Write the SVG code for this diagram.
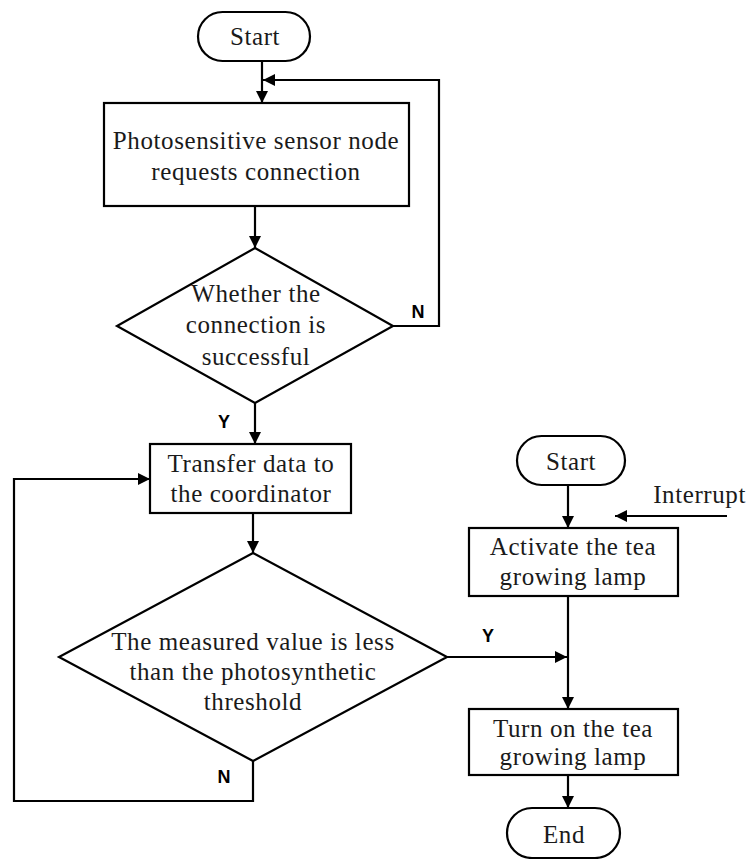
<svg xmlns="http://www.w3.org/2000/svg" width="748" height="859" viewBox="0 0 748 859">
<style>
.shape{fill:#fff;stroke:#000;stroke-width:2.2}
.t{font-family:"Liberation Serif","Times New Roman",serif;font-size:25px;letter-spacing:0.6px;fill:#1a1a1a;text-anchor:middle}
.lbl{font-family:"Liberation Sans",Arial,sans-serif;font-weight:bold;font-size:18px;fill:#000;text-anchor:middle}
.c{fill:none;stroke:#000;stroke-width:2.2}
</style>
<defs>
<marker id="ah" viewBox="0 0 10 10" refX="10" refY="5" markerWidth="13" markerHeight="12" markerUnits="userSpaceOnUse" orient="auto">
<path d="M0,0 L10,5 L0,10 Z" fill="#000"/>
</marker>
</defs>
<rect width="748" height="859" fill="#fff"/>
<g id="connectors">
<path class="c" d="M262,61 V103" marker-end="url(#ah)"/>
<path class="c" d="M393,326 H439 V80 H263" marker-end="url(#ah)"/>
<path class="c" d="M255,206 V248" marker-end="url(#ah)"/>
<path class="c" d="M255,403 V444" marker-end="url(#ah)"/>
<path class="c" d="M253,513 V553" marker-end="url(#ah)"/>
<path class="c" d="M253,761 V801 H14 V479 H150" marker-end="url(#ah)"/>
<path class="c" d="M447,657 H567" marker-end="url(#ah)"/>
<path class="c" d="M568,485 V528" marker-end="url(#ah)"/>
<path class="c" d="M727,516 H615" marker-end="url(#ah)"/>
<path class="c" d="M568,596 V709" marker-end="url(#ah)"/>
<path class="c" d="M568,775 V808" marker-end="url(#ah)"/>
<text class="lbl" x="418" y="318">N</text>
<text class="lbl" x="224" y="428">Y</text>
<text class="lbl" x="224" y="783">N</text>
<text class="lbl" x="488" y="642">Y</text>
<text class="t" x="746" y="503" style="text-anchor:end">Interrupt</text>
</g>
<g id="start1">
<rect class="shape" x="198" y="12" width="112" height="49" rx="24.5"/>
<text class="t" x="255" y="45">Start</text>
</g>
<g id="request">
<rect class="shape" x="104" y="103" width="305" height="103"/>
<text class="t" x="256" y="149">Photosensitive sensor node</text>
<text class="t" x="256" y="180">requests connection</text>
</g>
<g id="decision1">
<polygon class="shape" points="255,248 393,326 255,403 117,326"/>
<text class="t" x="256" y="302">Whether the</text>
<text class="t" x="256" y="333">connection is</text>
<text class="t" x="256" y="365">successful</text>
</g>
<g id="transfer">
<rect class="shape" x="150" y="444" width="201" height="69"/>
<text class="t" x="251" y="472">Transfer data to</text>
<text class="t" x="251" y="502">the coordinator</text>
</g>
<g id="decision2">
<polygon class="shape" points="253,553 447,657 253,761 59,657"/>
<text class="t" x="253" y="650">The measured value is less</text>
<text class="t" x="253" y="680">than the photosynthetic</text>
<text class="t" x="253" y="710">threshold</text>
</g>
<g id="start2">
<rect class="shape" x="517" y="436" width="108" height="49" rx="24.5"/>
<text class="t" x="571" y="470">Start</text>
</g>
<g id="activate">
<rect class="shape" x="469" y="528" width="209" height="68"/>
<text class="t" x="573" y="555">Activate the tea</text>
<text class="t" x="573" y="585">growing lamp</text>
</g>
<g id="turnon">
<rect class="shape" x="469" y="709" width="209" height="66"/>
<text class="t" x="573" y="737">Turn on the tea</text>
<text class="t" x="573" y="765">growing lamp</text>
</g>
<g id="end">
<rect class="shape" x="507" y="808" width="113" height="50" rx="25"/>
<text class="t" x="564" y="843">End</text>
</g>
</svg>
